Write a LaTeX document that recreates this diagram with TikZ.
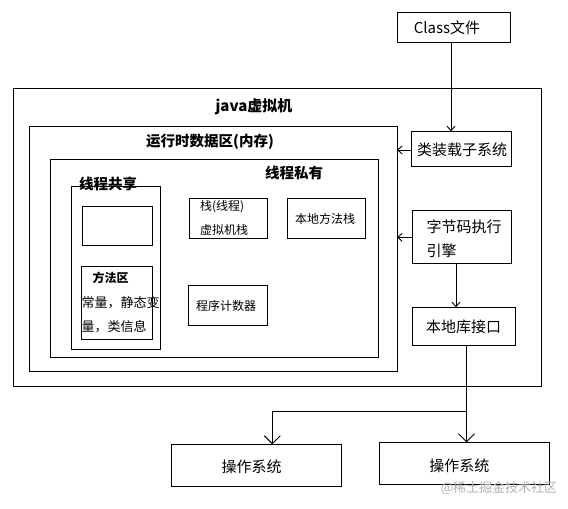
\documentclass[tikz,border=0pt]{standalone}
\usepackage{fontspec}
\setmainfont{Noto Sans CJK SC}
\usetikzlibrary{arrows.meta}
\begin{document}
\begin{tikzpicture}[x=1pt,y=-1pt,
  box/.style={draw, line width=1pt, inner sep=0pt, outer sep=0pt},
  txt/.style={inner sep=0pt, outer sep=0pt},
  f15/.style={font=\fontsize{15pt}{18pt}\selectfont},
  f13/.style={font=\fontsize{13pt}{16pt}\selectfont},
  f12/.style={font=\fontsize{12pt}{14pt}\selectfont},
  b15/.style={font=\fontsize{15pt}{18pt}\selectfont\bfseries},
  b12/.style={font=\fontsize{12pt}{14pt}\selectfont\bfseries},
  arr/.style={line width=1pt, -{Straight Barb[length=4.5pt,width=8pt,line width=0.9pt]}},
  arrb/.style={line width=1pt, -{Straight Barb[length=8pt,width=16pt,line width=0.9pt]}},
  ln/.style={line width=1pt}
]
\useasboundingbox (0,0) rectangle (568,509);
\fill[white] (0,0) rectangle (568,509);

% boxes
\node[box, minimum width=113pt, minimum height=30pt] (cls) at (453.5,27.3) {};
\node[box, minimum width=527.6pt, minimum height=297.7pt] (jvm) at (277.2,237.15) {};
\node[box, minimum width=368pt, minimum height=245.4pt] (rt) at (213,249) {};
\node[box, minimum width=327.6pt, minimum height=198pt] (priv) at (214.2,258.3) {};
\node[box, minimum width=89.2pt, minimum height=163pt] (shared) at (116.1,267.8) {};
\node[box, minimum width=70.4pt, minimum height=39pt] (empty) at (117.5,225.8) {};
\node[box, minimum width=71.1pt, minimum height=73pt] (method) at (117.15,302.8) {};
\node[box, minimum width=78pt, minimum height=40pt] (stack) at (228.7,218.3) {};
\node[box, minimum width=78pt, minimum height=40pt] (nstack) at (326,218.3) {};
\node[box, minimum width=78.4pt, minimum height=40pt] (pc) at (227.8,305.3) {};
\node[box, minimum width=100pt, minimum height=34.7pt] (loader) at (461,148.7) {};
\node[box, minimum width=99pt, minimum height=53pt] (engine) at (462.3,236.8) {};
\node[box, minimum width=103pt, minimum height=38pt] (nlib) at (464.3,326.3) {};
\node[box, minimum width=170pt, minimum height=42.4pt] (os1) at (256.7,465.5) {};
\node[box, minimum width=170pt, minimum height=41.7pt] (os2) at (464.3,463.2) {};

% texts
\node[txt, f15] (clsT) at (447,27.3) {Class文件};
\node[txt, b15] (jvmT) at (254,107) {java虚拟机};
\node[txt, b15, font=\fontsize{14.5pt}{17pt}\selectfont\bfseries] (rtT) at (210,141.5) {运行时数据区(内存)};
\node[txt, font=\fontsize{14.5pt}{17pt}\selectfont\bfseries] (privT) at (294,172.5) {线程私有};
\node[txt, font=\fontsize{14.5pt}{17pt}\selectfont\bfseries] (sharedT) at (108,184) {线程共享};
\node[txt, b12] (methodT) at (110.6,278) {方法区};
\node[txt, f13, anchor=west] (methodA) at (81.6,303) {常量，静态变};
\node[txt, f13, anchor=west] (methodB) at (81.6,327) {量，类信息};
\node[txt, f12, anchor=west] (stackA) at (200,206.7) {栈(线程)};
\node[txt, f12, anchor=west] (stackB) at (200,230) {虚拟机栈};
\node[txt, f12] (nstackT) at (325,218.5) {本地方法栈};
\node[txt, f12] (pcT) at (226,305.5) {程序计数器};
\node[txt, f15] (loaderT) at (462,150) {类装载子系统};
\node[txt, f15, anchor=west] (engineA) at (426.5,226.7) {字节码执行};
\node[txt, f15, anchor=west] (engineB) at (426.5,251) {引擎};
\node[txt, f15] (nlibT) at (463.5,326.5) {本地库接口};
\node[txt, f15] (os1T) at (251.7,467) {操作系统};
\node[txt, f15] (os2T) at (459.3,465.5) {操作系统};
\node[txt, font=\fontsize{13pt}{15pt}\selectfont, text=black!30] (wm) at (499,488.5) {@稀土掘金技术社区};

% connectors
\draw[arr] ([xshift=-2.5pt]cls.south) -- ([xshift=-2.5pt]cls.south |- loader.north);
\draw[arr] (loader.west |- 0,150) -- (rt.east |- 0,150);
\draw[arr] (engine.west |- 0,237.3) -- (rt.east |- 0,237.3);
\draw[arr] (engine.south -| 456,0) -- (nlib.north -| 456,0);
\coordinate (br) at (466.5,411.7);
\draw[arrb] (nlib.south -| br) -- (os2.north -| br);
\draw[arrb] (br) -- (272.3,411.7) -- (os1.north -| 272.3,0);
\end{tikzpicture}
\end{document}
